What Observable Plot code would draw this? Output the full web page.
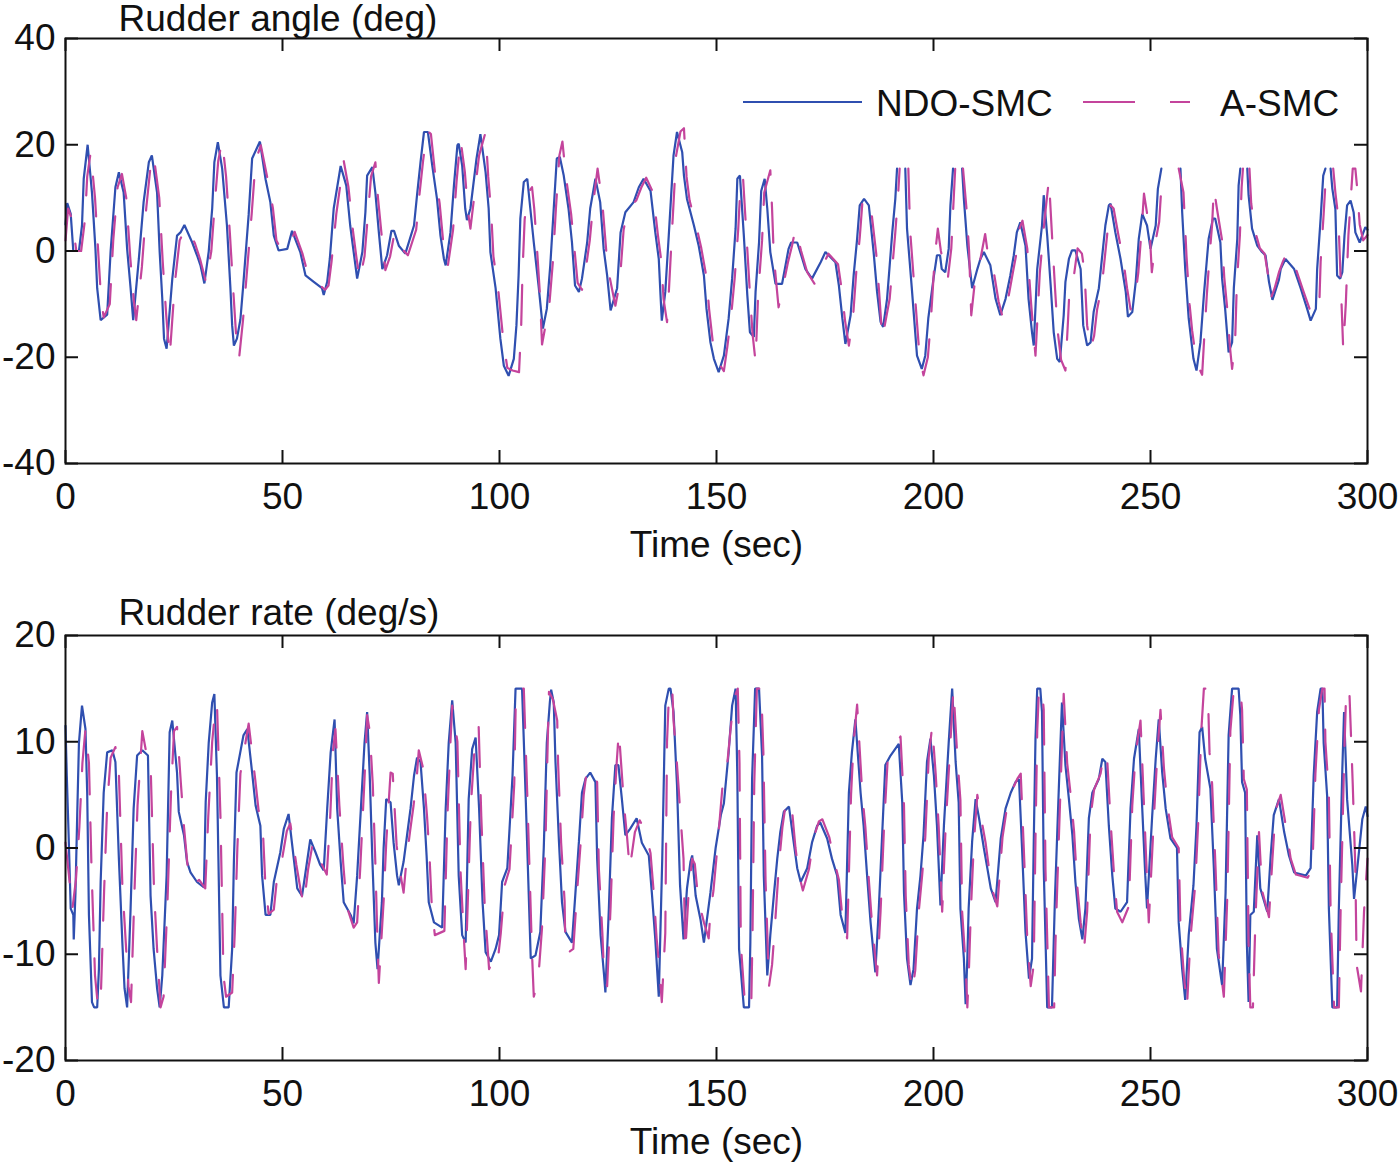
<!DOCTYPE html>
<html><head><meta charset="utf-8">
<script src="https://cdn.jsdelivr.net/npm/d3@7"></script>
<script src="https://cdn.jsdelivr.net/npm/@observablehq/plot@0.6"></script>
<style>
body{margin:0;background:#fff;width:1400px;height:1163px;position:relative;overflow:hidden;font-family:"Liberation Sans",Arial,Helvetica,sans-serif;}
#p1{position:absolute;left:0;top:0}
#p2{position:absolute;left:0;top:597px}
#legend{position:absolute;left:0;top:0}
</style></head><body>
<div id="p1"></div><div id="p2"></div>
<svg id="legend" width="1400" height="140"></svg>
<script>
// ---- tick labels / categories ----
const xTicks = [0, 50, 100, 150, 200, 250, 300];
const angleTicks = [-40, -20, 0, 20, 40];
const rateTicks = [-20, -10, 0, 10, 20];
const seriesNames = ["NDO-SMC", "A-SMC"];
const panelTitles = ["Rudder angle (deg)", "Rudder rate (deg/s)"];
const xLabel = "Time (sec)";

// ---- Rudder angle, NDO-SMC  [time, deg]  (null = line leaves the view) ----
const angleNDO = [[0,5],[0.4,9],[1.2,7],[1.8,0],[3.1,0],[3.8,4.8],[4.2,13.6],[5.1,20],[6.1,11],[6.9,0.4],[7.3,-7],[8.1,-13],[9.6,-12],[10.4,0],[11.5,12],[12.3,14.8],[13.4,11],[14.2,0.4],[15,-7],[15.6,-13],[16.9,-1.5],[18,9.2],[19.2,16.7],[19.9,18],[21.1,11],[21.7,-0.2],[22.3,-9],[22.7,-16.5],[23.3,-18.4],[24.6,-5.3],[25.7,2.9],[26.5,3.5],[27.4,4.9],[29.2,1.6],[30.3,-0.8],[31.1,-2.7],[32,-6.1],[33,-0.1],[33.8,8],[34.3,16.7],[35.1,20.5],[36.1,15.5],[37.2,4.8],[38,-7],[38.4,-14],[38.8,-17.8],[39.5,-16.5],[40.3,-12.9],[40.9,-7],[42.2,6.8],[43,17.4],[44.8,20.6],[46.1,13.5],[47.2,9.2],[48,2.9],[49.1,0.1],[51.1,0.4],[52.2,3.8],[54.1,-0.2],[55.3,-4.6],[57.2,-5.8],[59.1,-7],[59.5,-8.3],[60.3,-5.8],[60.9,-1.5],[61.8,8],[63.4,16],[64.7,12.3],[65.6,4.8],[66.4,-0.2],[67.2,-5.2],[68.4,-0.2],[69.1,7.3],[69.5,14.2],[70.7,15.8],[71.4,11],[72.2,3.5],[73,-3.4],[74.1,-0.8],[75.1,3.8],[75.7,3.8],[76.8,1],[78.3,-0.5],[80.3,4.8],[81,10.5],[81.8,16.7],[82.6,22.4],[83.5,22.4],[84.5,16.1],[85.6,9.8],[86.4,2.9],[87.2,-1.5],[87.6,-2.7],[88.7,3.5],[89.5,12.3],[90.3,19.9],[90.6,20.2],[91.4,16.1],[92.1,8],[92.5,5.8],[93.3,8],[94.7,17.4],[95.6,22],[96.8,14.8],[97.5,8],[97.9,-0.2],[99.1,-7],[100.2,-16.5],[101,-21.6],[102.1,-23.5],[103.3,-20.3],[103.9,-14],[104.4,-4.6],[104.8,6.1],[105.6,13],[106.4,13.6],[107.1,8],[107.9,1.6],[109,-6.5],[110,-14.6],[110.9,-10.9],[111.7,-2.7],[112.5,8],[113.2,17.4],[113.9,17.7],[114.8,14.2],[115.9,8],[116.7,1.6],[117.4,-6.5],[118.3,-7.7],[119,-5.2],[120.2,1.6],[120.9,8],[122.1,13.6],[123.2,9.2],[124,0.4],[124.8,-4.6],[125.6,-11.2],[127.1,-7],[127.9,3.5],[129,7.3],[130.9,9.2],[132.1,12],[133.2,13.6],[134.8,11.3],[135.9,3.5],[136.7,-1.5],[137.1,-8.3],[137.4,-13.1],[138.2,-7.7],[139,2.9],[140.1,18],[140.9,22.4],[142.1,18.6],[142.5,14.2],[143.2,9.8],[144.8,4.8],[145.9,1],[147.1,-4.6],[147.7,-10.9],[148.6,-17.2],[149.4,-20.3],[150.5,-22.8],[151.7,-19.7],[152.8,-12.7],[153.6,-5.2],[154.4,4.2],[154.8,13.6],[155.4,14.2],[156.3,2.9],[157.1,-8.3],[157.7,-15.3],[158.6,-16.2],[159,-7.7],[159.8,1.6],[160.3,11.3],[161.1,13.6],[161.7,8],[162.4,-0.2],[163.6,-6.2],[165.1,-6.2],[165.9,-2.7],[166.6,0.4],[167.2,1.6],[168.6,1.6],[169.3,-0.2],[170.5,-3.4],[172,-5.2],[174,-2.1],[175.1,-0.2],[177.4,-2.1],[178.2,-6.5],[179,-12.7],[179.7,-17.5],[180.9,-12.1],[181.6,-4.6],[182.4,2.3],[183,8.6],[184,9.8],[185.1,8.6],[186.2,-0.2],[187,-7.7],[187.8,-13.3],[188.4,-14.3],[189.3,-9],[190.5,3.5],[191.2,9.8],[191.6,15.5],[192.5,null],[193.5,15.5],[193.9,4.2],[195,-7],[196.2,-19.7],[197.3,-22.2],[198.1,-19.7],[198.8,-12.7],[200,-5.2],[200.8,-0.8],[201.5,-0.8],[201.9,-3.4],[202.7,-4],[203.5,0.4],[203.9,8.6],[204.5,15.5],[205.5,null],[206.6,15.5],[207,9.8],[207.8,1],[208.9,-7],[210.1,-3.4],[210.8,-1.5],[211.6,-0.2],[213.1,-2.7],[214.3,-9],[215.4,-12.1],[216.6,-9],[217.7,-4.6],[218.5,-0.8],[219.2,3.5],[220,5.4],[221.2,1],[221.9,-9],[222.7,-15.3],[223.1,-17.8],[223.9,-3.4],[225,4.8],[225.4,10.5],[226.2,2.9],[227,-6.5],[227.7,-15.3],[228.5,-20.3],[229.1,-20.9],[230,-12.1],[230.4,-5.8],[231.2,-1.5],[231.9,0.1],[232.7,0.1],[233.9,-3.4],[234.5,-14],[235.4,-17.8],[236.2,-17.2],[236.9,-11.5],[238.1,-7],[238.8,-1.5],[239.6,4.8],[240.4,8.6],[240.8,8.9],[241.9,3.5],[243.1,-1.5],[244.3,-7.7],[244.8,-12.4],[245.8,-11.5],[246.6,-5.8],[247.3,2.3],[248.1,7],[249.2,4.8],[250,0.4],[251.2,4.8],[251.7,11.7],[252.5,15.5],[254.5,null],[256.9,15.5],[257.3,7.3],[258,-3.4],[258.8,-12.7],[259.9,-20.3],[260.6,-22.5],[261.5,-17.2],[262.3,-8.3],[263,-1.5],[263.4,2.3],[264.4,6.1],[264.9,6.1],[266.1,1.6],[266.5,-5.2],[267.2,-10.9],[268,-19.1],[268.8,-17.2],[269.2,-7],[270,2.3],[270.3,12.3],[270.7,15.5],[271.5,null],[272.3,15.5],[272.6,10.5],[273.4,4.2],[274.6,1],[275.7,-0.2],[276.5,-0.8],[277.3,-5.8],[278.1,-9.2],[279.6,-5.4],[280,-3.4],[281.1,-1.5],[283.1,-3.4],[284.6,-7],[286.1,-10.9],[286.9,-13.1],[288.1,-10.9],[288.4,-3.4],[289.2,6.1],[289.8,14.2],[290.3,15.5],[290.9,null],[291.5,15.5],[291.9,11.7],[292.6,7.9],[293,-4.6],[293.7,-5.2],[294.2,-4],[294.7,2.9],[295.3,8.6],[296.1,9.5],[296.8,7.3],[297.2,3.5],[298.2,1.6],[299.5,4.5],[300,4]];

// ---- Rudder angle, A-SMC ----
const angleASMC = [[0,2],[0.6,8],[1.5,6],[2.5,0],[3.6,0],[4.5,6],[5,14],[5.8,18.6],[6.8,10],[7.6,-1],[8.2,-9],[8.8,-12.5],[10.2,-10],[11,2],[12,12],[13,14.5],[14,10],[14.9,-1],[15.7,-9],[16.3,-13],[17.6,-3],[18.6,8],[19.6,16],[20.3,18.1],[21.6,10],[22.4,-2],[23.2,-12],[24,-20],[25.2,-6],[26.3,2],[27.8,4.5],[29.8,1.5],[31,-1.5],[32.4,-6],[33.6,0],[34.5,10],[35.2,17],[36.1,20.8],[37,14],[37.9,3],[38.7,-8],[39.4,-17],[40,-20.2],[40.9,-13],[41.6,-6],[42.9,7],[43.8,17],[45,19.9],[46.7,13],[47.8,8],[48.6,2],[49.8,0],[51.6,1],[52.8,3.6],[54.6,-0.5],[56,-4.8],[58,-6],[59.8,-7.3],[60.6,-6.5],[61.3,-2],[62.4,7],[64.1,17],[65.2,12],[66.2,4],[67,-1],[67.8,-5.5],[68.9,-1],[69.8,8],[70.4,14],[71.4,16.7],[72,10],[72.9,2.5],[73.7,-3.6],[74.8,-1],[75.8,3.4],[76.6,3.2],[77.4,0.5],[78.9,-0.8],[80.8,4],[81.6,11],[82.4,17],[83.3,22.7],[84.2,22],[85.1,15],[86.2,9],[87,2],[88.1,-2.8],[89.3,4],[90.1,13],[91,21.1],[92,15],[92.8,7],[93.3,4.2],[94,9],[95.3,18],[96.8,22.4],[97.4,14],[98.1,7],[98.6,-1],[99.8,-8],[100.9,-17],[101.8,-22],[103,-22.5],[104.5,-22.8],[105,-14],[105.3,-4],[105.8,6],[106.6,11],[107.5,12],[108,8],[108.6,1],[109.3,-8],[109.8,-17.6],[111.5,-10],[112.3,-2],[113,8],[113.8,18],[114.5,20.6],[115.3,14],[116.5,7],[117.2,1],[118,-6],[119,-7.3],[119.6,-5],[120.8,2],[121.6,9],[122.6,15.5],[123.7,9],[124.6,0],[125.4,-5],[126.7,-10.3],[127.7,-6],[128.6,4],[129.6,8],[131.5,9.5],[132.7,12],[133.8,13.8],[135.4,11],[136.5,3],[137.3,-2],[137.8,-9],[138.6,-13.4],[139,-8],[139.7,3],[140.7,18],[141.7,22.5],[142.5,23.1],[143.1,14],[143.8,9.5],[145.4,4.5],[146.5,0.5],[147.7,-5],[148.3,-11],[149.2,-17.5],[150.1,-20.6],[151.7,-22.6],[152.5,-18],[153.4,-12],[154.2,-5],[155,4],[155.5,12],[156.1,14],[156.9,3],[157.7,-8],[158.3,-15.5],[159,-20.9],[159.6,-8],[160.5,2],[161,11],[162.4,15.2],[162.8,8],[163.2,-1],[164.3,-10.6],[165.5,-6],[166.5,-2],[167.4,1],[168.2,4.2],[169.5,0],[170.9,-4],[172.6,-6.2],[174.6,-2.5],[175.8,-0.5],[178,-2.5],[178.8,-7],[179.6,-13],[180.5,-17.8],[181.5,-12],[182.2,-4],[183,2.5],[183.6,9],[184.6,10.1],[185.6,8],[186.8,-0.5],[187.5,-8],[188.2,-16.5],[189.9,-9],[191.2,3.5],[191.8,10],[192.2,15.5],[193,null],[194.2,15.5],[194.6,4],[195.6,-7],[196.8,-20],[197.7,-23.4],[198.7,-20],[199.4,-13],[200.3,-1],[201,4.2],[201.7,0],[202.5,-3],[203.3,-5.2],[204.1,0.5],[204.6,9],[205,15.5],[205.8,null],[206.8,15.5],[207.6,8],[208.2,0],[208.7,-12.1],[209.5,-6],[210.7,-2],[211.9,3.2],[212.6,-1],[213.8,-3.5],[215,-9.5],[216,-12.7],[217.2,-9],[218.3,-4],[219.1,-0.5],[219.7,4],[220.5,5.7],[221.6,0.5],[222.5,-10],[223.1,-16],[223.5,-19.7],[224.5,-4],[225.6,6],[226.6,13.5],[227.3,3],[228,-7],[228.6,-15],[229.4,-20.5],[230.4,-22.5],[231,-13],[231.4,-6],[232.3,-5],[233.2,0.5],[234.2,-0.5],[234.8,-4],[235.4,-14],[236.2,-18.4],[237,-16],[237.7,-11],[238.8,-6.5],[239.5,-1],[240.2,4.5],[240.8,8.6],[241.5,8],[242.6,3],[243.8,-2],[244.6,-7],[245.4,-11],[246.4,-9],[247.2,-4],[247.9,3.5],[248.5,10.8],[249.8,4],[250.3,-4],[251.2,2],[252,5.5],[252.5,12],[253,15.5],[254.5,null],[256.5,15.5],[257.6,11],[258.3,-1],[259,-10],[259.6,-15],[260.6,-21],[261.9,-23.3],[262.4,-16],[263,-8],[263.6,-1],[264.2,5],[264.6,11.9],[265.3,8],[266.5,2],[267,-5],[267.7,-11],[268.3,-18],[268.8,-22.2],[269.5,-17],[269.9,-6],[270.6,3],[271,12],[271.3,15.5],[272,null],[272.8,15.5],[273.2,9],[274,4],[275.2,0.5],[276.3,-0.5],[277,-4],[277.7,-9],[278.6,-7],[279.6,-4],[280.5,-2],[281.5,-0.2],[282.2,-1.5],[283.6,-3.6],[285.2,-7.5],[286.7,-11],[288.1,-12.1],[288.9,-10],[289.2,-2],[289.9,7],[290.5,15.5],[291.2,null],[292.1,15.5],[292.6,11],[293.3,6],[294.4,-18.4],[295,-10],[295.6,3],[296.6,15.5],[297.2,15.5],[297.6,12],[298.2,5],[299,2],[300,3]];

// ---- Rudder rate, NDO-SMC  [time, deg/s] ----
const rateNDO = [[0,11.5],[0.3,6.8],[0.8,0.1],[1.2,-5.7],[1.8,-6.3],[1.9,-8.6],[2.3,-4.2],[2.7,3.1],[3.1,9.9],[3.8,13.4],[4.6,11.2],[5,5.2],[5.4,-6.3],[6.1,-14.5],[6.6,-15],[7.3,-15],[7.7,-11.4],[8.1,-3.2],[8.8,5.2],[9.6,9],[10.8,9.2],[11.5,8.1],[12.3,-1],[13.1,-8.9],[13.6,-13.2],[14.2,-15],[15,-5.7],[15.7,3.7],[16.5,8.7],[17.7,9.2],[19,8.7],[19.6,-4.5],[20.3,-9.5],[21.1,-13.2],[21.7,-15],[22.3,-12],[23.3,-2.6],[24,10.9],[24.6,12],[25.7,7.1],[26.1,3.4],[27.3,1.2],[28,-1.3],[28.8,-2.3],[30.3,-3.2],[31.9,-3.7],[32.3,4.3],[33,9.9],[33.8,13.7],[34.3,14.5],[34.9,6.8],[35.7,-12],[36.5,-15],[37.6,-15],[38.4,-9.5],[38.8,-1.3],[39.4,7.1],[41,10.6],[41.9,11.2],[43,7.1],[43.8,4],[44.9,2.1],[45.3,-2.6],[46.1,-6.3],[47.2,-6.3],[48,-3.2],[49.5,-0.4],[50.3,1.8],[51.4,3.2],[52.6,-1],[53.4,-3.8],[54.5,-4.5],[55.3,-2.3],[56.4,0.8],[57.6,-0.4],[58.7,-1.6],[59.5,-2.1],[60.3,3.7],[61.1,9],[62,12.1],[62.6,3.7],[63.4,-1.3],[64.1,-5.1],[65.7,-6.3],[66.4,-7.1],[67.2,-2.6],[68.4,6.2],[68.9,9.9],[69.5,12.8],[70.1,6.8],[70.7,-1],[71.4,-8.9],[71.9,-11.4],[72.9,-5.1],[73.3,0],[73.9,4.6],[74.9,4.3],[75.6,0.5],[76.4,-2.6],[76.8,-3.5],[77.9,-1.3],[78.7,1.2],[79.5,3.7],[80.3,6.8],[81,8.5],[81.8,8.1],[82.6,3.7],[83.2,-0.7],[83.7,-5.1],[84.9,-7],[86.8,-7.5],[87.6,3.7],[88.3,9.9],[89.1,13.9],[89.9,9.9],[90.6,-2.6],[91.4,-8.2],[92.2,-8.9],[92.9,4.6],[93.7,9.3],[94.5,10.4],[95.3,3.7],[96.1,-5.1],[96.8,-9.8],[98,-10.7],[99.1,-9.5],[99.9,-8.2],[100.6,-3.2],[101.8,-1.9],[103,6.8],[103.7,15],[105.2,15],[106,5.2],[107.2,-10.4],[108.3,-10.1],[109.4,-7.9],[110.2,0],[110.9,9.9],[111.6,13.7],[111.9,14.9],[112.5,13.7],[112.9,8.1],[113.7,0.6],[114.4,-5.1],[115.2,-7.9],[116.7,-8.9],[117.5,-4.2],[118.3,0.6],[119,5.2],[119.8,6.5],[120.9,7.1],[122.1,6.2],[122.5,-1],[123.3,-8.2],[124.1,-12],[124.4,-13.6],[125.2,-5.7],[125.9,2.8],[126.7,7.8],[127.4,7.8],[128.2,4.6],[129,1.2],[130.1,1.8],[131.6,2.8],[132.8,0.5],[134.4,-0.7],[135.1,-4.2],[135.9,-8.6],[136.7,-14],[137.5,-1],[138.2,13.4],[139,15],[139.4,15],[140.1,12.8],[140.9,5.9],[141.6,-3.5],[142.4,-8.6],[143.2,-3.8],[144,-1.3],[144.4,-0.7],[145.2,-4.5],[146.3,-6.7],[147.1,-8.9],[148.6,-4.2],[149.8,0],[151,3.1],[151.7,4.2],[152.8,9],[153.6,13.4],[154.4,15],[154.8,6.8],[155.2,-9.5],[156.3,-15],[157.5,-15],[157.8,-8.9],[158.2,6.5],[158.9,15],[159.8,15],[160.5,8.7],[160.9,-2.6],[161.7,-12],[162.4,-8.2],[163.2,-4.5],[164,-1],[164.7,1.5],[165.5,3.4],[166.7,3.9],[167.8,0.5],[168.6,-1.9],[169.4,-3.2],[170.9,-1.9],[172,0.5],[173.2,2.1],[173.9,2.4],[175.5,0.9],[176.6,-1],[177.8,-2.6],[178.6,-6.3],[179.7,-8],[180.5,5.2],[181.2,9],[182,12.1],[183.2,5.2],[183.9,2.1],[184.7,-2.6],[185.5,-7],[186.6,-11.7],[187.4,-5.7],[188.2,1.5],[188.9,7.8],[190.1,8.7],[192,9.8],[192.8,4.3],[193.2,-4.2],[193.9,-10.4],[194.7,-12.9],[195.4,-11.4],[196.2,-5.7],[197,-2.6],[197.7,1.2],[198.5,8.1],[199.3,10.3],[200.1,6.8],[200.8,2.1],[201.6,-5.4],[202.4,2.1],[203.5,9.9],[204.3,15],[205.1,8.1],[205.8,4.3],[206.2,-5.7],[207,-10.4],[207.4,-14.7],[207.8,-10.4],[208.1,-5.7],[208.9,0.6],[209.7,4.6],[210.5,2.8],[211.6,0],[212.4,-1.9],[213.2,-3.8],[214.3,-5.1],[215.5,0.9],[216.6,3.7],[217.8,5.2],[218.9,6.2],[219.7,6.5],[220.4,0],[221.2,-7.9],[222,-12.3],[222.7,-10.4],[223.1,0.6],[223.5,10.3],[223.9,15],[224.6,15],[225,12.8],[225.4,-1.9],[226.2,-15],[227.3,-15],[227.7,-8.9],[228,-4.5],[228.9,5.9],[229.6,13.7],[230.4,7.8],[231.2,4.6],[232,1.2],[232.7,-3.2],[233.5,-6.7],[234.3,-8.6],[235,-5.7],[235.8,2.8],[236.6,5.2],[238.1,6.5],[238.9,8.4],[239.6,8.1],[240.4,2.1],[241.2,-2.6],[241.9,-5.7],[243.1,-6],[244.6,-5.1],[245.4,3.7],[246.2,8.4],[247.3,11.2],[248.1,3.7],[248.8,-2.6],[249.2,-5.7],[250.4,3.1],[251.2,8.4],[251.9,12.1],[252.7,7.1],[253.5,3.7],[254.6,0.9],[256.1,0],[256.5,-7],[257.3,-11.4],[258,-14.3],[258.8,-8.2],[259.9,-3.5],[260.6,2.1],[261.3,10.9],[261.9,11.4],[262.6,8.4],[263.8,5.6],[264.6,-1.9],[265.3,-9.5],[266.5,-12.9],[267.3,-4.2],[268,10.6],[268.8,15],[270.3,15],[270.7,12.5],[271.1,6.2],[271.8,5.2],[272.2,-8.9],[272.6,-14.5],[273,-6.3],[273.8,-6],[274.6,1.2],[275.3,-3.8],[276.9,-6],[277.7,-0.7],[278.4,3.1],[279.6,4.6],[280.8,1.5],[281.9,-0.7],[283.1,-2.3],[285.8,-2.6],[286.9,-1.9],[287.6,6.8],[288.4,12.8],[289.2,15],[289.6,15],[289.9,9.9],[290.7,4.9],[291.1,-5.7],[291.9,-15],[293,-15],[293.4,-5.7],[294.2,7.4],[294.6,12.8],[295.3,4.6],[296.5,-1.6],[296.9,-4.8],[298.1,-0.1],[298.8,2.7],[299.6,3.9],[300,3]];

// ---- Rudder rate, A-SMC ----
const rateASMC = [[0,0.5],[0.9,-3],[1.6,-5.7],[2.4,-3],[3.2,2],[3.9,8],[4.6,11.2],[5.4,8],[6,-2],[6.8,-12],[7.5,-15],[8.2,-13.2],[8.9,-4],[9.6,4],[10.4,8.5],[11.5,9.5],[12.3,7],[13.1,-3.5],[13.9,-9],[14.5,-13],[15.1,-14.5],[15.9,-4],[16.6,4],[17.7,11],[18.6,9],[19.6,8],[20.4,-4],[21.1,-9.5],[21.9,-15],[22.6,-14],[23.5,-5],[24.3,5],[25,11],[25.7,11.4],[26.6,6],[27.3,2],[28.2,-2],[29.2,-3.5],[30.8,-3],[32.2,-3.8],[32.9,3],[33.8,10],[34.5,13],[34.9,13.6],[35.7,3],[36.4,-12],[37,-14],[38.4,-13.6],[39,-8],[39.6,0],[40.3,7],[41.5,10],[42.2,11.7],[43.7,6.5],[44.5,3.5],[45.5,1.5],[46,-3],[46.8,-6.2],[48,-5.8],[48.7,-3],[50,-0.8],[51,1.6],[51.8,2.3],[53.2,-1.6],[54.2,-4],[54.9,-5.4],[55.9,-2],[57,0.5],[58.2,-0.8],[59.5,-1.9],[60.2,-2.5],[61,3],[61.6,9],[62.2,11.2],[63.1,4],[64,-1.5],[64.8,-5.5],[66.4,-7.5],[67.2,-7],[67.9,-2],[68.9,6.5],[69.5,12.5],[70.1,11],[70.8,6],[71.4,-1.5],[71.9,-9],[72.2,-12.7],[73.3,-5],[73.9,0.5],[74.9,7.1],[75.4,7],[76.3,0.2],[77.2,-2.5],[77.9,-4.2],[78.6,-1],[79.4,1.6],[80.2,4],[81,7],[81.4,9.2],[82.4,7.5],[83.3,3],[83.9,-1],[84.4,-5.5],[85.1,-8.2],[87.3,-7.8],[88,3],[88.7,10],[89.1,13.4],[90.3,10],[91,-2],[91.8,-8.5],[92.2,-11.4],[93.4,4],[94.2,9],[95.2,11.4],[95.8,3],[96.6,-5.5],[97.6,-11.4],[98.6,-10.5],[99.5,-11],[100.3,-8],[101.2,-3.5],[102.3,-2],[103.4,6],[103.8,15],[105.6,15],[106.4,5],[107.5,-10],[107.9,-14],[108.9,-12.5],[109.8,-7.5],[110.6,0.5],[111,8],[111.4,14.7],[112.3,14],[113.3,12],[113.5,8],[114.2,0.5],[115,-5],[115.2,-10],[117,-9.5],[117.9,-4],[118.7,0.5],[119.4,5],[120.2,7.6],[121.3,7.2],[122.5,6.2],[122.9,-2],[123.7,-8],[124.1,-12],[124.8,-13],[125.6,-5.5],[126.3,3],[127,8],[127.5,11],[128.1,7.5],[128.7,4],[129.4,1],[130,-2],[131.2,1.5],[132.3,2.6],[133.6,1.6],[134.8,-0.5],[135.5,-4],[136.2,-8.5],[136.7,-10.7],[137.4,-14.5],[138.2,-8],[138.6,10],[139.1,15],[139.8,15],[140.1,12],[140.7,9],[141.3,5.5],[141.6,3.6],[142.4,-1],[142.8,-9.8],[143.6,-4],[144.4,-1],[145,-1.5],[145.7,-4.5],[146.5,-6],[147.1,-7],[148.2,-8.5],[148.6,-6],[149.3,-4],[150.3,0.5],[151.7,7.4],[152.5,8],[153.2,11],[154,14],[154.9,15],[155.3,8],[155.6,-9],[156.6,-15],[158,-15],[158.3,-8],[158.7,6],[159.3,15],[160.3,15],[160.8,9],[161.3,-3],[162.1,-13],[162.8,-11],[163.6,-6.5],[164.4,-1.5],[165.2,2],[165.9,4],[167.2,4.5],[168.2,0],[169,-2.5],[169.9,-4],[171.3,-2],[172.4,1],[173.6,2.5],[174.4,2.7],[176,1],[177,-1],[178.2,-3],[179,-6.5],[180.1,-8.5],[181,5],[181.6,10],[182.4,13.5],[183.6,5],[184.3,2],[185.1,-3],[185.9,-7.5],[187,-12],[187.8,-6],[188.6,2],[189.4,8],[190.6,9],[192.4,10.5],[193.2,4],[193.6,-4.5],[194.3,-11],[195.1,-13.5],[195.8,-11.5],[196.6,-6],[197.4,-2.5],[198.1,1],[198.9,8.5],[199.7,11.5],[200.5,7],[201.2,2],[202,-6],[202.8,2],[203.9,10],[204.6,15],[205.5,8.5],[206.2,4.5],[206.6,-6],[207.4,-11],[207.8,-15],[208.2,-11],[208.6,-6],[209.3,0.5],[210.1,5],[210.9,3],[212,0.5],[212.8,-2],[213.6,-4],[214.7,-5.5],[215.9,1],[217,4],[218.2,5.5],[219.3,6.5],[220.1,7],[220.8,0],[221.6,-8.5],[222.4,-13],[223.1,-11],[223.5,1],[223.9,11],[224.3,15],[225,15],[225.4,13],[225.8,-2],[226.6,-15],[227.8,-15],[228.1,-9],[228.4,-5],[229.3,6],[230,14.5],[230.8,8],[231.6,5],[232.4,1.5],[233.1,-3.5],[233.9,-7],[234.7,-9.5],[235.4,-6],[236.2,3],[237,5.5],[238.5,7],[239.3,9],[240,8.5],[240.8,2.5],[241.6,-2.5],[242.3,-6],[243.5,-7],[245,-5.5],[245.8,4],[246.6,9],[247.7,12],[248.5,4],[249.2,-3],[249.6,-7],[250.8,3],[251.6,9],[252.3,13],[253.1,7.5],[253.9,4],[255,1],[256.5,0],[256.9,-7.5],[257.7,-12],[258.4,-15],[259.2,-8.5],[260.3,-3.5],[261,2.5],[261.7,11],[262.3,15],[263.2,15],[263.6,9],[264.2,6],[265,-2],[265.7,-10],[266.9,-14],[267.7,-4.5],[268.4,11],[269.2,15],[270.7,15],[271.1,13],[271.5,6.5],[272.2,5.5],[272.6,-9],[273,-15],[273.6,-15],[274.2,-6.5],[275,1.5],[275.7,-4],[277.3,-6.5],[278.1,-1],[278.8,3.5],[280,5],[281.2,2],[282.3,-1],[283.5,-2.5],[286.2,-2.8],[287.3,-2],[288,7],[288.8,13],[289.6,15],[290.1,15],[290.3,10],[291.1,5],[291.5,-6],[292.3,-15],[293.4,-15],[293.8,-6],[294.6,8],[295.1,15],[295.8,15],[296.6,6],[297.2,-2],[297.5,-11],[298.5,-13.5],[299.2,-6],[300,-1]];

// ---- styles ----
const BLUE = "#2f4fb0";
const MAGENTA = "#c4449c";
const FONT = '"Liberation Sans", Arial, Helvetica, sans-serif';
const FS = 37;
const W = 1400, ML = 65, MR = 33, MT = 38, FRAME_H = 425;
const FRAME_W = W - ML - MR;
const TICK = 13;

function toRows(pairs) { return pairs.map(([t, v]) => ({t, v})); }
const fmt = d => String(d);

function panel(title, ndo, asmc, yDomain, yTicks, height, titleDy) {
  const mb = height - MT - FRAME_H;
  const inT = FRAME_H - TICK, inW = FRAME_W - TICK;
  return Plot.plot({
    width: W, height,
    marginTop: MT, marginLeft: ML, marginRight: MR, marginBottom: mb,
    x: {domain: [0, 300]},
    y: {domain: yDomain},
    style: {fontFamily: FONT, fontSize: FS + "px", background: "white", color: "#111", overflow: "visible"},
    marks: [
      Plot.line(toRows(ndo), {x: "t", y: "v", stroke: BLUE, strokeWidth: 2.2, strokeLinejoin: "miter"}),
      Plot.line(toRows(asmc), {x: "t", y: "v", stroke: MAGENTA, strokeWidth: 2.2, strokeDasharray: "40,28"}),
      Plot.frame({stroke: "#111", strokeWidth: 2}),
      Plot.tickX(xTicks, {x: d => d, insetTop: inT, stroke: "#111", strokeWidth: 2}),
      Plot.tickX(xTicks, {x: d => d, insetBottom: inT, stroke: "#111", strokeWidth: 2}),
      Plot.tickY(yTicks, {y: d => d, insetRight: inW, stroke: "#111", strokeWidth: 2}),
      Plot.tickY(yTicks, {y: d => d, insetLeft: inW, stroke: "#111", strokeWidth: 2}),
      Plot.axisX({ticks: xTicks, tickSize: 0, tickPadding: 19, tickFormat: fmt, fontSize: FS, label: null}),
      Plot.axisY({ticks: yTicks, tickSize: 0, tickPadding: 10, tickFormat: fmt, fontSize: FS, label: null}),
      Plot.text([title], {text: d => d, frameAnchor: "top-left", dx: 53, dy: titleDy, textAnchor: "start", lineAnchor: "middle", fontSize: FS, fill: "#111"}),
      Plot.text([xLabel], {text: d => d, frameAnchor: "bottom", dy: 82, lineAnchor: "middle", fontSize: FS, fill: "#111"})
    ]
  });
}

document.getElementById("p1").append(panel(panelTitles[0], angleNDO, angleASMC, [-40, 40], angleTicks, 580, -19));
document.getElementById("p2").append(panel(panelTitles[1], rateNDO, rateASMC, [-20, 20], rateTicks, 566, -22));

// ---- legend (top panel, upper right) ----
const lg = d3.select("#legend").style("font-family", FONT).style("font-size", FS + "px");
lg.append("line").attr("x1", 743).attr("x2", 862).attr("y1", 102).attr("y2", 102).attr("stroke", BLUE).attr("stroke-width", 2.2);
lg.append("text").attr("x", 876).attr("y", 116).attr("fill", "#111").text(seriesNames[0]);
lg.append("line").attr("x1", 1083).attr("x2", 1190).attr("y1", 102).attr("y2", 102).attr("stroke", MAGENTA).attr("stroke-width", 2.2).attr("stroke-dasharray", "52,35");
lg.append("text").attr("x", 1220).attr("y", 116).attr("fill", "#111").text(seriesNames[1]);
</script></body></html>
